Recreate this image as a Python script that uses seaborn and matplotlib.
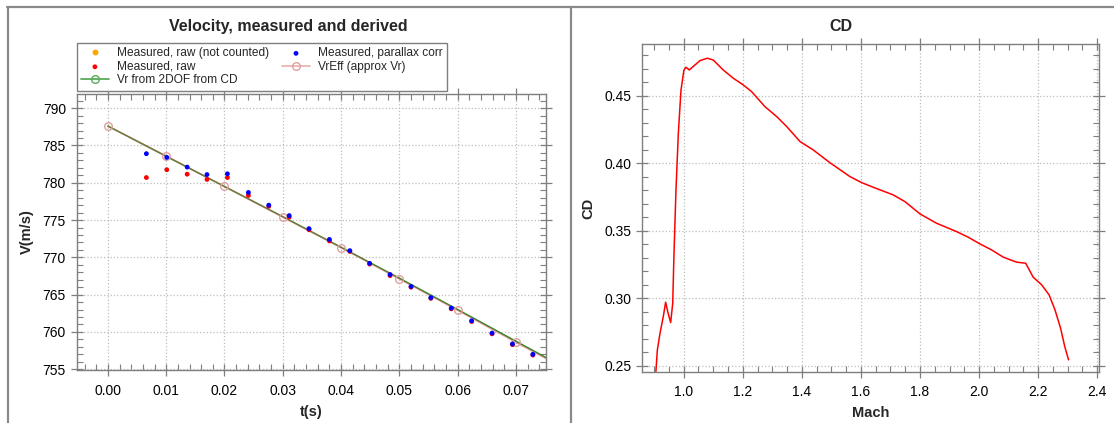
import numpy as np
import pandas as pd
import matplotlib
matplotlib.use("Agg")
import matplotlib.pyplot as plt
import seaborn as sns
from matplotlib.lines import Line2D
from matplotlib.ticker import MultipleLocator, FormatStrFormatter

# ---------------- data ----------------
# measured times (s)
t_meas = [0.0066, 0.0101, 0.0136, 0.0170, 0.0205, 0.0241, 0.0276, 0.0311, 0.0345, 0.0380,
          0.0415, 0.0449, 0.0484, 0.0520, 0.0554, 0.0589, 0.0624, 0.0659, 0.0694, 0.0729]
v_parallax = [783.9, 783.4, 782.1, 781.1, 781.2, 778.7, 777.0, 775.6, 773.85, 772.4,
              770.9, 769.2, 767.7, 766.1, 764.6, 763.2, 761.5, 759.85, 758.4, 757.0]
v_raw = [780.7, 781.75, 781.15, 780.45, 780.7, 778.3, 776.85, 775.4, 773.7, 772.2,
         770.8, 769.1, 767.55, 766.0, 764.5, 763.1, 761.4, 759.75, 758.3, 756.9]
t_not_counted = []
v_not_counted = []

t_2dof = [0.00, 0.01, 0.02, 0.03, 0.04, 0.05, 0.06, 0.07, 0.08]
v_2dof = [787.6, 783.55, 779.5, 775.45, 771.35, 767.2, 763.0, 758.75, 754.5]

t_vreff = [0.00, 0.01, 0.02, 0.03, 0.04, 0.05, 0.06, 0.07, 0.08]
v_vreff = [787.6, 783.6, 779.5, 775.4, 771.3, 767.1, 762.9, 758.6, 754.4]

mach = [0.906, 0.911, 0.920, 0.931, 0.939, 0.946, 0.956, 0.963, 0.967, 0.974, 0.982, 0.991,
        1.001, 1.008, 1.019, 1.032, 1.055, 1.080, 1.100, 1.134, 1.168, 1.202, 1.230, 1.275,
        1.315, 1.349, 1.394, 1.439, 1.495, 1.563, 1.602, 1.642, 1.709, 1.749, 1.800, 1.856,
        1.924, 1.963, 2.003, 2.042, 2.082, 2.127, 2.158, 2.183, 2.212, 2.237, 2.257, 2.276,
        2.290, 2.303]
cd = [0.2459, 0.2619, 0.2743, 0.2865, 0.2972, 0.2902, 0.2821, 0.2964, 0.3309, 0.3803, 0.4222, 0.4542,
      0.4690, 0.4710, 0.4690, 0.4715, 0.4759, 0.4777, 0.4764, 0.4690, 0.4629, 0.4579, 0.4530, 0.4419,
      0.4345, 0.4271, 0.4160, 0.4098, 0.4004, 0.3901, 0.3857, 0.3822, 0.3766, 0.3716, 0.3625, 0.3556,
      0.3494, 0.3453, 0.3403, 0.3359, 0.3305, 0.3268, 0.3260, 0.3157, 0.3100, 0.3026, 0.2915, 0.2779,
      0.2644, 0.2545]

# ---------------- style ----------------
sns.set_theme(style="ticks")
plt.rcParams['font.family'] = ['Liberation Sans', 'DejaVu Sans']
GRAY = "#7f7f7f"
plt.rcParams['axes.edgecolor'] = GRAY
plt.rcParams['xtick.color'] = GRAY
plt.rcParams['ytick.color'] = GRAY
plt.rcParams['xtick.labelcolor'] = 'black'
plt.rcParams['ytick.labelcolor'] = 'black'

W, H = 1114, 423
fig = plt.figure(figsize=(W / 100, H / 100), dpi=100)
fig.patch.set_facecolor('white')

def fx(px):
    return px / W

def fy(py):
    return 1 - py / H

ax1 = fig.add_axes([fx(77), fy(370), fx(545.7) - fx(77), fy(94) - fy(370)])
ax2 = fig.add_axes([fx(642.3), fy(372.3), fx(1099) - fx(642.3), fy(44.3) - fy(372.3)])

# ---------------- left panel ----------------
meas = pd.DataFrame({"t": t_meas, "raw": v_raw, "par": v_parallax})
ax1.plot(t_not_counted, v_not_counted, linestyle='none', marker='o', ms=3.2,
         color='#ffa500', label='Measured, raw (not counted)')
GREEN = '#1e8c1e'
sns.lineplot(x=t_2dof, y=v_2dof, ax=ax1, color=GREEN, lw=1.1, legend=False)
sns.lineplot(x=t_vreff, y=v_vreff, ax=ax1, color=(0.82, 0.36, 0.36, 0.55), lw=1.1,
             marker='o', markersize=5.5, markerfacecolor='none',
             markeredgecolor='#e0a0a0', markeredgewidth=1.0,
             label='VrEff (approx Vr)', legend=False)
sns.scatterplot(data=meas, x="t", y="raw", ax=ax1, color='red', s=12,
                edgecolor='none', label='Measured, raw', legend=False, zorder=5)
sns.scatterplot(data=meas, x="t", y="par", ax=ax1, color='blue', s=12,
                edgecolor='none', label='Measured, parallax corr', legend=False, zorder=6)

ax1.set_xlim(-0.0053, 0.0751)
ax1.set_ylim(754.9, 791.9)
ax1.xaxis.set_major_locator(MultipleLocator(0.01))
ax1.xaxis.set_minor_locator(MultipleLocator(0.002))
ax1.xaxis.set_major_formatter(FormatStrFormatter('%.2f'))
ax1.yaxis.set_major_locator(MultipleLocator(5))
ax1.yaxis.set_minor_locator(MultipleLocator(1))
ax1.set_xlabel('t(s)', fontsize=10.5, fontweight='bold', labelpad=5)
ax1.set_ylabel('V(m/s)', fontsize=10.5, fontweight='bold', labelpad=6)

# ---------------- right panel ----------------
sns.lineplot(x=mach, y=cd, ax=ax2, color='red', lw=1.1, sort=False, estimator=None)
ax2.set_xlim(0.86, 2.406)
ax2.set_ylim(0.2453, 0.488)
ax2.xaxis.set_major_locator(MultipleLocator(0.2))
ax2.xaxis.set_minor_locator(MultipleLocator(0.05))
ax2.xaxis.set_major_formatter(FormatStrFormatter('%.1f'))
ax2.yaxis.set_major_locator(MultipleLocator(0.05))
ax2.yaxis.set_minor_locator(MultipleLocator(0.01))
ax2.yaxis.set_major_formatter(FormatStrFormatter('%.2f'))
ax2.set_xlabel('Mach', fontsize=10.5, fontweight='bold', labelpad=5)
ax2.set_ylabel('CD', fontsize=10.5, fontweight='bold', labelpad=6)

for ax in (ax1, ax2):
    for s in ax.spines.values():
        s.set_visible(True)
        s.set_color(GRAY)
        s.set_linewidth(1.0)
    ax.grid(True, which='major', color='#bdbdbd', linestyle=':', linewidth=0.9)
    ax.tick_params(which='major', direction='inout', length=8, width=0.9,
                   top=True, right=True, labelsize=10, pad=4)
    ax.tick_params(which='minor', direction='in', length=4, width=0.8,
                   top=True, right=True)
    ax.set_facecolor('white')
ax1.tick_params(axis='x', which='major', pad=6)
ax2.tick_params(axis='x', which='major', pad=5)

# ---------------- legend ----------------
h, l = ax1.get_legend_handles_labels()
hm = dict(zip(l, h))
hm['Vr from 2DOF from CD'] = Line2D([], [], color='#5aaa5a', lw=1.3, marker='o', ms=5.5,
                                    markerfacecolor='none', markeredgecolor='#5aaa5a')
order = ['Measured, raw (not counted)', 'Measured, raw', 'Vr from 2DOF from CD',
         'Measured, parallax corr', 'VrEff (approx Vr)']
leg = fig.legend([hm[k] for k in order], order, ncol=2, loc='upper left',
                 bbox_to_anchor=(fx(77), fy(43.3)), bbox_transform=fig.transFigure,
                 fontsize=8.6, frameon=True, fancybox=False, framealpha=1,
                 edgecolor=GRAY, borderpad=0.35, labelspacing=0.12,
                 handlelength=2.3, handletextpad=0.7, columnspacing=1.1,
                 scatterpoints=1, markerscale=1.0, borderaxespad=0)
leg.get_frame().set_linewidth(1.0)

# ---------------- titles ----------------
fig.text(fx(288), fy(26.5), 'Velocity, measured and derived', ha='center', va='center',
         fontsize=11.5, fontweight='bold')
fig.text(fx(841), fy(26.5), 'CD', ha='center', va='center', fontsize=11.5, fontweight='bold')

# ---------------- panel frame lines ----------------
for (x0, y0, x1, y1) in [(7, 7.5, 1114, 7.5), (7.5, 7, 7.5, 423), (570.5, 7, 570.5, 423)]:
    fig.add_artist(Line2D([fx(x0), fx(x1)], [fy(y0), fy(y1)], transform=fig.transFigure,
                          color='#8a8a8a', lw=1.6))

fig.savefig('out.png', dpi=100, facecolor='white')
